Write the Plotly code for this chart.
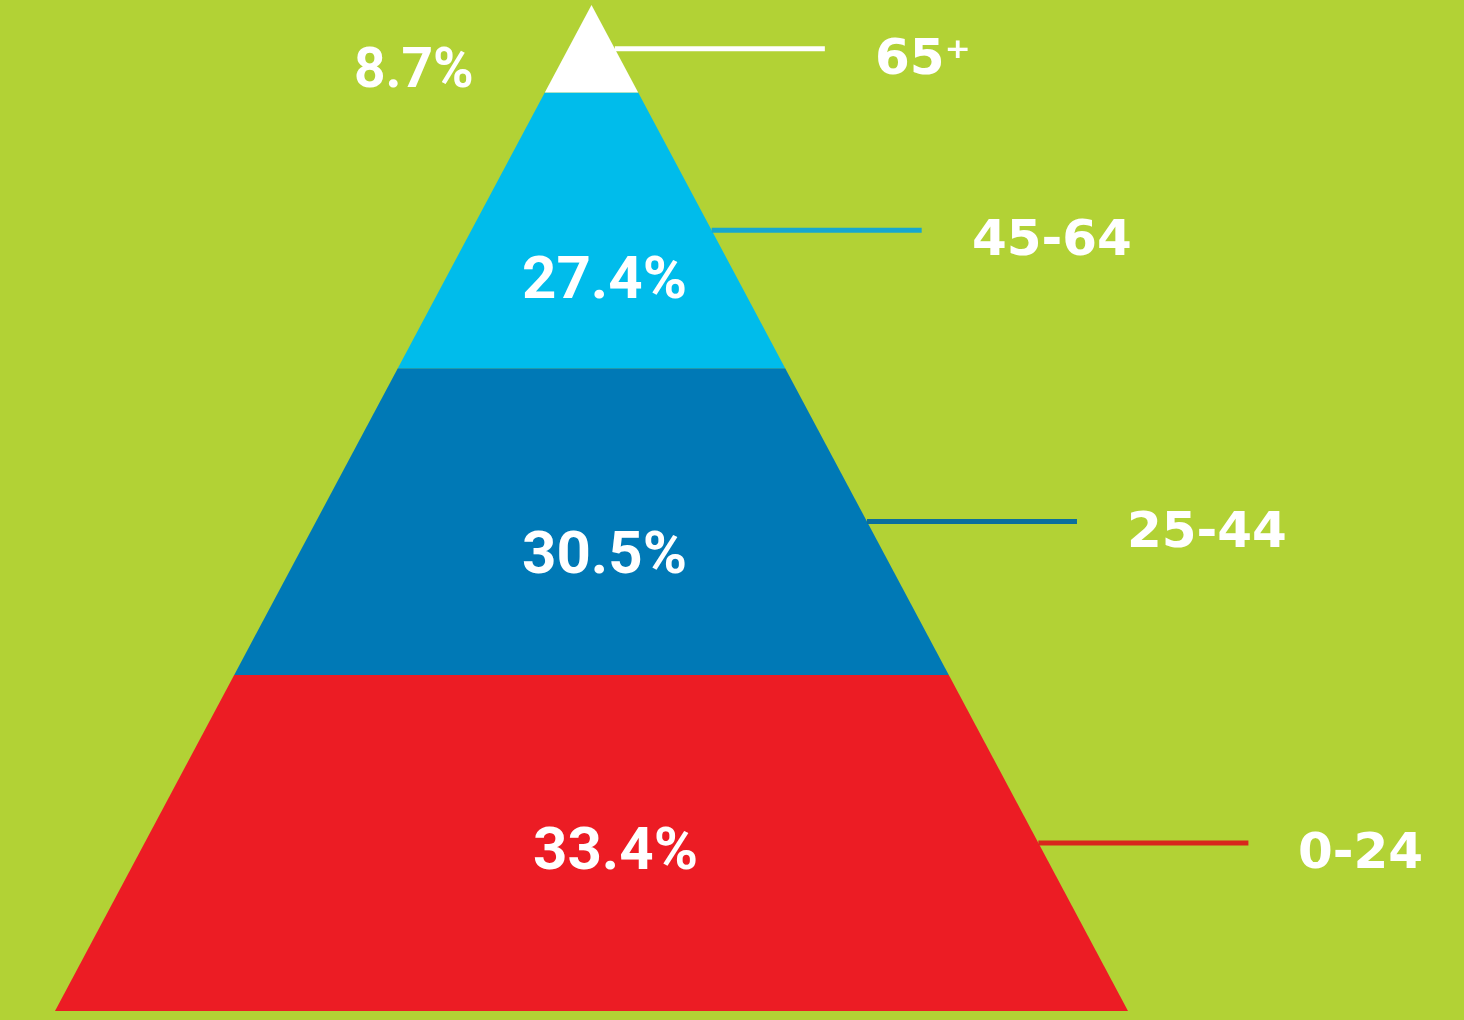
import plotly.graph_objects as go

# ---- data (bottom band first) ----
groups = ["0-24", "25-44", "45-64", "65+"]
shares = [33.4, 30.5, 27.4, 8.7]
share_labels = ["33.4%", "30.5%", "27.4%", "8.7%"]
group_labels = ["0-24", "25-44", "45-64", "65⁺"]

# ---- styles ----
BG = "#B2D235"
fills = ["#EC1C24", "#0079B6", "#00BCEB", "#FFFFFF"]
leader_colors = ["#D8261C", "#0B6F9C", "#16A7CF", "#FFFFFF"]
# pixel offsets for the share labels (x, y) relative to band middle / axis
share_dx = [24, 13, 13, -178]
share_dy = [-5, -31, -47, -19]
share_sizes = [60, 60, 60, 55]

W, H = 1464, 1020
APEX_X, TOP_PX, BASE_PX, HALF_BASE_PX = 591.5, 5, 1011, 536.5
px_per_y = (BASE_PX - TOP_PX) / 100.0
LEAD = 210 / HALF_BASE_PX       # leader length in x units
GAP = 48 / HALF_BASE_PX         # gap between leader end and label

fig = go.Figure()
annotations = []
total = sum(shares)
cum = 0.0
for i, s in enumerate(shares):
    y0 = cum / total * 100
    y1 = (cum + s) / total * 100
    cum += s
    w0 = 1 - y0 / 100
    w1 = 1 - y1 / 100
    fig.add_trace(go.Scatter(
        x=[-w0, w0, w1, -w1, -w0], y=[y0, y0, y1, y1, y0],
        mode="lines", fill="toself", fillcolor=fills[i],
        line=dict(width=0, color=fills[i]), hoverinfo="skip", showlegend=False))
    ym = (y0 + y1) / 2
    xe = 1 - ym / 100
    fig.add_trace(go.Scatter(
        x=[xe, xe + LEAD], y=[ym, ym], mode="lines",
        line=dict(color=leader_colors[i], width=5),
        hoverinfo="skip", showlegend=False))
    annotations.append(dict(
        x=xe + LEAD + GAP, y=ym, xref="x", yref="y", text=group_labels[i],
        showarrow=False, xanchor="left", yanchor="middle", yshift=-8,
        font=dict(family="DejaVu Sans", size=50, color="white", weight=700)))
    annotations.append(dict(
        x=0, y=ym, xref="x", yref="y", text=share_labels[i],
        showarrow=False, xanchor="center", yanchor="middle",
        xshift=share_dx[i], yshift=share_dy[i],
        font=dict(family="Roboto", size=share_sizes[i], color="white", weight=700)))

x_min = -APEX_X / HALF_BASE_PX
x_max = (W - APEX_X) / HALF_BASE_PX
y_min = -(H - BASE_PX) / px_per_y
y_max = 100 + TOP_PX / px_per_y

fig.update_layout(
    width=W, height=H,
    margin=dict(l=0, r=0, t=0, b=0),
    paper_bgcolor=BG, plot_bgcolor=BG,
    xaxis=dict(range=[x_min, x_max], visible=False, fixedrange=True),
    yaxis=dict(range=[y_min, y_max], visible=False, fixedrange=True),
    annotations=annotations,
    showlegend=False,
)
fig.write_html(
    "out.html",
    config={"displayModeBar": False},
    post_script=(
        "document.body.style.margin='0';"
        "document.body.style.overflow='hidden';"
        "document.body.style.background='" + BG + "';"
    ),
)
